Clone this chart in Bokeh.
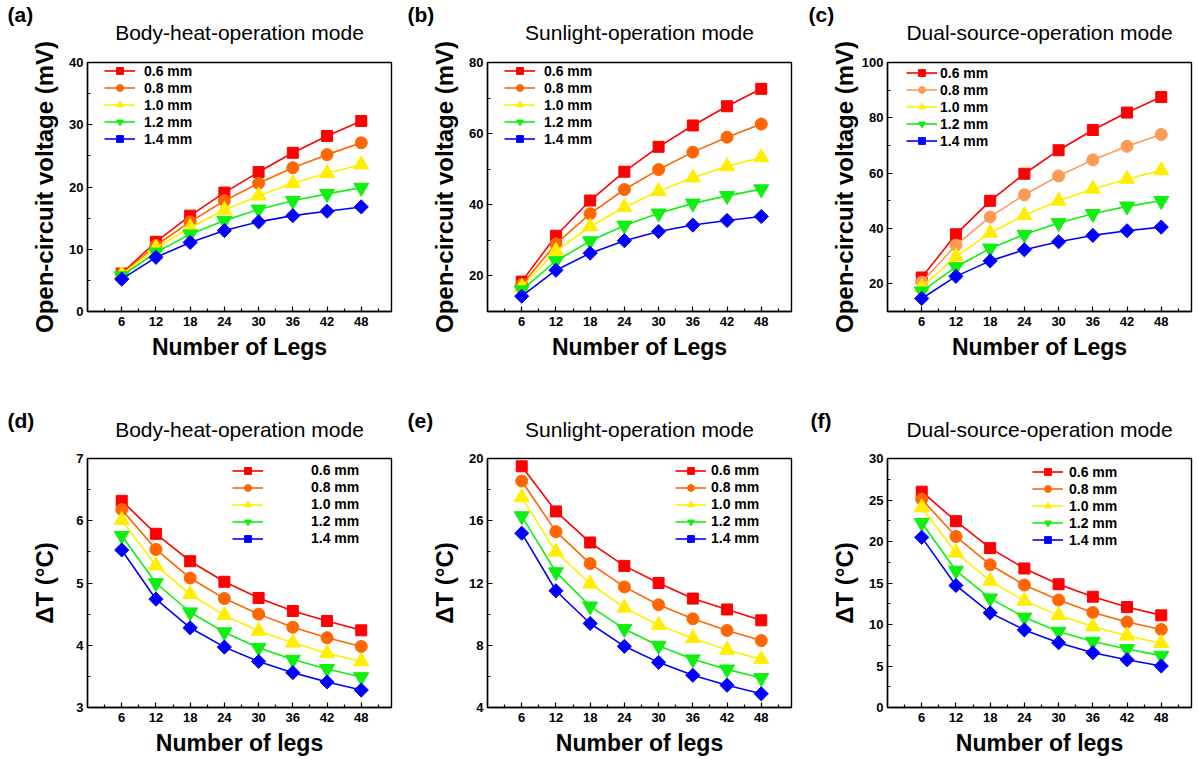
from bokeh.plotting import figure
from bokeh.layouts import row, column
from bokeh.models import Range1d, FixedTicker, Legend, LegendItem, Title
from bokeh.embed import file_html
from bokeh.resources import INLINE
import math

FONT = "Liberation Sans"

legs = [6, 12, 18, 24, 30, 36, 42, 48]
x_minor = [3, 9, 15, 21, 27, 33, 39, 45, 51]
thickness = ["0.6 mm", "0.8 mm", "1.0 mm", "1.2 mm", "1.4 mm"]

# (a) open-circuit voltage, body-heat mode (mV)
voc_body_06 = [6.1, 11.2, 15.4, 19.1, 22.4, 25.5, 28.2, 30.6]
voc_body_08 = [6.0, 10.6, 14.4, 17.8, 20.6, 23.1, 25.2, 27.1]
voc_body_10 = [5.9, 10.2, 13.5, 16.3, 18.6, 20.6, 22.2, 23.6]
voc_body_12 = [5.7, 9.5, 12.4, 14.6, 16.4, 17.8, 18.9, 19.9]
voc_body_14 = [5.2, 8.7, 11.1, 13.0, 14.4, 15.4, 16.1, 16.8]

# (b) open-circuit voltage, sunlight mode (mV)
voc_sun_06 = [18.4, 31.3, 41.2, 49.3, 56.3, 62.3, 67.7, 72.6]
voc_sun_08 = [17.5, 29.0, 37.5, 44.3, 49.9, 54.8, 59.0, 62.7]
voc_sun_10 = [16.9, 27.0, 33.9, 39.3, 43.8, 47.6, 50.8, 53.3]
voc_sun_12 = [16.0, 24.2, 29.8, 34.2, 37.6, 40.4, 42.5, 44.4]
voc_sun_14 = [14.3, 21.6, 26.4, 29.9, 32.5, 34.3, 35.6, 36.7]

# (c) open-circuit voltage, dual-source mode (mV)
voc_dual_06 = [22.3, 37.9, 50.0, 59.8, 68.3, 75.6, 81.9, 87.5]
voc_dual_08 = [20.6, 34.0, 44.2, 52.2, 59.0, 64.8, 69.7, 74.0]
voc_dual_10 = [18.8, 29.8, 38.4, 44.8, 50.0, 54.3, 57.9, 61.0]
voc_dual_12 = [17.3, 26.1, 32.8, 37.8, 42.0, 45.3, 48.0, 50.0]
voc_dual_14 = [14.7, 22.7, 28.3, 32.3, 35.2, 37.5, 39.2, 40.5]

# (d) temperature difference, body-heat mode (degC)
dt_body_06 = [6.32, 5.79, 5.35, 5.02, 4.76, 4.55, 4.39, 4.24]
dt_body_08 = [6.18, 5.54, 5.08, 4.75, 4.50, 4.29, 4.12, 3.98]
dt_body_10 = [6.01, 5.28, 4.82, 4.48, 4.23, 4.04, 3.87, 3.74]
dt_body_12 = [5.76, 5.00, 4.53, 4.21, 3.96, 3.77, 3.62, 3.49]
dt_body_14 = [5.53, 4.74, 4.28, 3.97, 3.74, 3.56, 3.41, 3.28]

# (e) temperature difference, sunlight mode (degC)
dt_sun_06 = [19.5, 16.6, 14.6, 13.1, 12.0, 11.0, 10.3, 9.6]
dt_sun_08 = [18.55, 15.3, 13.25, 11.75, 10.6, 9.7, 8.95, 8.3]
dt_sun_10 = [17.5, 14.0, 11.95, 10.4, 9.3, 8.45, 7.7, 7.1]
dt_sun_12 = [16.3, 12.7, 10.5, 9.05, 7.97, 7.1, 6.45, 5.9]
dt_sun_14 = [15.2, 11.5, 9.4, 7.93, 6.9, 6.07, 5.43, 4.88]

# (f) temperature difference, dual-source mode (degC)
dt_dual_06 = [26.0, 22.45, 19.2, 16.75, 14.85, 13.35, 12.1, 11.1]
dt_dual_08 = [25.1, 20.6, 17.2, 14.75, 12.95, 11.45, 10.3, 9.4]
dt_dual_10 = [24.1, 18.65, 15.25, 12.85, 11.1, 9.75, 8.65, 7.75]
dt_dual_12 = [22.25, 16.5, 13.15, 10.85, 9.15, 7.95, 7.05, 6.25]
dt_dual_14 = [20.5, 14.7, 11.4, 9.35, 7.8, 6.6, 5.75, 5.0]

COLORS = ["#FF0000", "#FF6600", "#FFEE00", "#11EE11", "#0000FF"]
COLORS_C = ["#FF0000", "#FF9A55", "#FFEE00", "#11EE11", "#0000FF"]
MARKERS = ["square", "circle", "triangle", "inverted_triangle", "square"]
SIZES = [11, 12, 15, 15, 10]
ANGLES = [0, 0, 0, 0, math.pi / 4]


def panel(letter, letter_x, title, ylabel, xlabel, series, colors,
          y0, y1, yticks, yminor, leg_x, leg_y, leg_standoff, ylab_standoff,
          top_row, right_border):
    fw, fh = 304, 249
    if top_row:
        bt, bb = 62, 73
        title_so, letter_so = 34, -44
    else:
        bt, bb = 74, 61
        title_so, letter_so = 32, -60
    p = figure(frame_width=fw, frame_height=fh,
               x_range=Range1d(0, 53.3), y_range=Range1d(y0, y1),
               output_backend="svg", toolbar_location=None,
               min_border_left=87, min_border_right=right_border,
               min_border_top=bt, min_border_bottom=bb)
    p.xgrid.visible = False
    p.ygrid.visible = False
    p.outline_line_color = "black"
    p.outline_line_width = 1.4
    p.background_fill_color = "white"
    p.border_fill_color = "white"

    # outer title: the panel letter; inner title: the operation mode
    p.title = Title(text=letter, align="left", offset=letter_x,
                    vertical_align="bottom", text_font=FONT,
                    text_font_style="bold", text_font_size="21px",
                    text_color="black", standoff=letter_so)
    p.add_layout(Title(text=title, align="center", vertical_align="top",
                       text_font=FONT, text_font_style="normal",
                       text_font_size="21px", text_color="black",
                       standoff=title_so), "above")

    p.xaxis.ticker = FixedTicker(ticks=legs, minor_ticks=x_minor)
    p.yaxis.ticker = FixedTicker(ticks=yticks, minor_ticks=yminor)
    for ax in (p.xaxis[0], p.yaxis[0]):
        ax.axis_line_color = "black"
        ax.axis_line_width = 1.4
        ax.major_tick_in = 5
        ax.major_tick_out = 0
        ax.minor_tick_in = 3
        ax.minor_tick_out = 0
        ax.major_tick_line_color = "black"
        ax.minor_tick_line_color = "black"
        ax.major_tick_line_width = 1.2
        ax.minor_tick_line_width = 1.2
        ax.major_label_text_font = FONT
        ax.major_label_text_font_style = "bold"
        ax.major_label_text_font_size = "13px"
        ax.major_label_text_color = "black"
        ax.axis_label_text_font = FONT
        ax.axis_label_text_font_style = "bold"
        ax.axis_label_text_color = "black"
    p.xaxis.axis_label = xlabel
    p.yaxis.axis_label = ylabel
    p.xaxis.axis_label_text_font_size = "23px"
    p.yaxis.axis_label_text_font_size = "24px"
    p.xaxis.major_label_standoff = 5
    p.yaxis.major_label_standoff = 4
    p.xaxis.axis_label_standoff = 5
    p.yaxis.axis_label_standoff = ylab_standoff

    items = []
    for name, vals, col, mk, sz, ang in zip(thickness, series, colors, MARKERS, SIZES, ANGLES):
        ln = p.line(legs, vals, line_color=col, line_width=1.6)
        sc = p.scatter(legs, vals, marker=mk, size=sz, angle=ang,
                       fill_color=col, line_color=col)
        items.append(LegendItem(label=name, renderers=[ln, sc]))

    lg = Legend(items=items, location=(leg_x, leg_y),
                background_fill_alpha=0, border_line_alpha=0,
                padding=0, margin=0, spacing=0,
                glyph_width=31, glyph_height=17, label_height=17,
                label_standoff=leg_standoff,
                label_text_font=FONT, label_text_font_style="bold",
                label_text_font_size="14px", label_text_color="black")
    p.add_layout(lg)
    return p


VOC = "Open-circuit voltage (mV)"
DT = "\u0394T (\u00b0C)"

pa = panel("(a)", -80, "Body-heat-operation mode", VOC, "Number of Legs",
           [voc_body_06, voc_body_08, voc_body_10, voc_body_12, voc_body_14], COLORS,
           0, 40, [0, 10, 20, 30, 40], [5, 15, 25, 35],
           17, 164, 9, 8, True, 9)
pb = panel("(b)", -80, "Sunlight-operation mode", VOC, "Number of Legs",
           [voc_sun_06, voc_sun_08, voc_sun_10, voc_sun_12, voc_sun_14], COLORS,
           10, 80, [20, 40, 60, 80], [10, 30, 50, 70],
           17, 164, 9, 8, True, 9)
pc = panel("(c)", -79, "Dual-source-operation mode", VOC, "Number of Legs",
           [voc_dual_06, voc_dual_08, voc_dual_10, voc_dual_12, voc_dual_14], COLORS_C,
           10, 100, [20, 40, 60, 80, 100], [10, 30, 50, 70, 90],
           19, 162, 3, 1, True, 7)
pd = panel("(d)", -80, "Body-heat-operation mode", DT, "Number of legs",
           [dt_body_06, dt_body_08, dt_body_10, dt_body_12, dt_body_14], COLORS,
           3, 7, [3, 4, 5, 6, 7], [3.5, 4.5, 5.5, 6.5],
           145, 160.5, 48, 15, False, 9)
pe = panel("(e)", -80, "Sunlight-operation mode", DT, "Number of legs",
           [dt_sun_06, dt_sun_08, dt_sun_10, dt_sun_12, dt_sun_14], COLORS,
           4, 20, [4, 8, 12, 16, 20], [6, 10, 14, 18],
           188, 160.5, 5, 8, False, 9)
pf = panel("(f)", -77, "Dual-source-operation mode", DT, "Number of legs",
           [dt_dual_06, dt_dual_08, dt_dual_10, dt_dual_12, dt_dual_14], COLORS,
           0, 30, [0, 5, 10, 15, 20, 25, 30], [2.5, 7.5, 12.5, 17.5, 22.5, 27.5],
           145, 159, 6, 8, False, 7)

layout = column(row(pa, pb, pc), row(pd, pe, pf))

with open("out.html", "w") as f:
    f.write(file_html(layout, INLINE))
